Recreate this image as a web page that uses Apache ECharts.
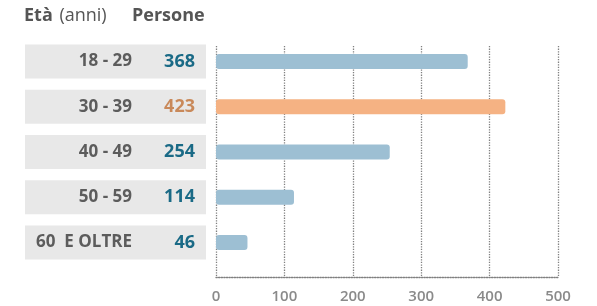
<!DOCTYPE html>
<html>
<head>
<meta charset="utf-8">
<script src="https://cdn.jsdelivr.net/npm/echarts@6/dist/echarts.min.js"></script>
<style>
  html, body { margin: 0; padding: 0; background: #fff; }
  #chart { width: 597px; height: 306px; }
</style>
</head>
<body>
<div id="chart"></div>
<script>
// dati
const eta = ['18 - 29', '30 - 39', '40 - 49', '50 - 59', '60  E OLTRE'];
const persone = [368, 423, 254, 114, 46];
const evidenza = [false, true, false, false, false];
const tickX = [0, 100, 200, 300, 400, 500];

const FONT = '"Open Sans", Lato, sans-serif';
const grigio = '#555555';
const blu = '#9dbfd3';
const arancio = '#f5b283';
const bluTesto = '#1a6a86';
const arancioTesto = '#c9895a';

const chart = echarts.init(document.getElementById('chart'));

chart.setOption({
  animation: false,
  textStyle: { fontFamily: FONT },
  graphic: [
    {
      type: 'text', left: 24, top: 7,
      style: {
        text: '{b|Età}  {n|(anni)}',
        rich: {
          b: { fontFamily: FONT, fontWeight: 'bold', fontSize: 18, fill: grigio },
          n: { fontFamily: FONT, fontSize: 18, fill: grigio }
        }
      }
    },
    {
      type: 'text', left: 132, top: 7,
      style: { text: 'Persone', fontFamily: FONT, fontWeight: 'bold', fontSize: 18, fill: grigio }
    }
  ],
  grid: [
    { left: 216, right: 39, top: 46, bottom: 29 },   // assi e griglia
    { left: 216, right: 39, top: 39, bottom: 41 },   // barre
    { left: 25, width: 181, top: 39, bottom: 41 }    // tabella
  ],
  xAxis: [
    {
      gridIndex: 0, type: 'value', min: tickX[0], max: tickX[tickX.length - 1], interval: 100,
      axisLine: { show: true, lineStyle: { color: '#808080', type: 'dotted', width: 1.3 } },
      axisTick: { show: false },
      splitLine: { show: true, lineStyle: { color: '#808080', type: 'dotted', width: 1.3 } },
      axisLabel: { color: '#8a8a8a', fontSize: 15, fontWeight: 600, margin: 12, fontFamily: FONT }
    },
    { gridIndex: 1, type: 'value', min: 0, max: 500, show: false },
    { gridIndex: 2, type: 'value', min: 0, max: 1, show: false }
  ],
  yAxis: [
    { gridIndex: 0, type: 'category', data: eta, show: false },
    { gridIndex: 1, type: 'category', data: eta, inverse: true, show: false },
    {
      gridIndex: 2, type: 'category', data: eta, inverse: true, z: 10,
      axisLine: { show: false }, axisTick: { show: false }, splitLine: { show: false },
      axisLabel: {
        inside: true, align: 'left', margin: 0,
        formatter: (v, i) => `{a|${v}}{${evidenza[i] ? 'o' : 'v'}|${persone[i]}}`,
        rich: {
          a: { width: 107, align: 'right', fontSize: 17, fontWeight: 'bold', color: '#5c5c5c', fontFamily: FONT },
          v: { width: 63, align: 'right', fontSize: 18, fontWeight: 'bold', color: bluTesto, fontFamily: FONT },
          o: { width: 63, align: 'right', fontSize: 18, fontWeight: 'bold', color: arancioTesto, fontFamily: FONT }
        }
      }
    }
  ],
  series: [
    {
      type: 'bar', xAxisIndex: 2, yAxisIndex: 2, barWidth: 34, z: 1,
      data: persone.map(() => 0),
      showBackground: true,
      backgroundStyle: { color: '#e8e8e8' },
      itemStyle: { color: 'rgba(0,0,0,0)' },
      silent: true
    },
    {
      type: 'bar', xAxisIndex: 1, yAxisIndex: 1, barWidth: 15,
      data: persone.map((v, i) => ({
        value: v,
        itemStyle: { color: evidenza[i] ? arancio : blu }
      })),
      itemStyle: { borderRadius: 3 }
    }
  ]
});
</script>
</body>
</html>
